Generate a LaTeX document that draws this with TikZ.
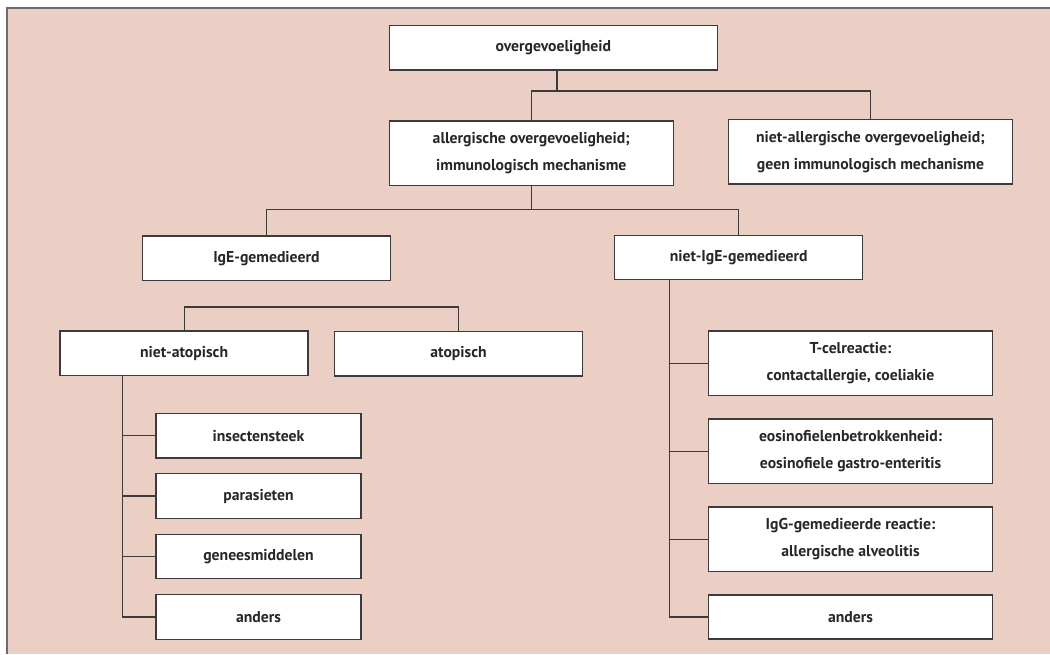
\documentclass[tikz,border=0pt]{standalone}
\usepackage{fontspec}
\setmainfont{PT Sans}
\definecolor{bgpink}{RGB}{235,207,196}
\definecolor{framegray}{RGB}{110,106,104}
\definecolor{boxline}{RGB}{60,58,58}
\definecolor{txt}{RGB}{40,38,38}
\tikzset{
  box/.style={draw=boxline, line width=1.3pt, fill=white, inner sep=0pt, align=center,
    text=txt, font=\fontsize{15.7}{27.3}\selectfont\bfseries},
  wbox/.style={box, minimum width=248pt, minimum height=44.3pt},
  link/.style={draw=boxline, line width=1.2pt}
}
\begin{document}
\begin{tikzpicture}[x=1pt,y=-1pt]
\useasboundingbox (0,0) rectangle (1050,654);
\fill[white] (0,0) rectangle (1050,654);
\fill[bgpink] (7,7.5) rectangle (1050,654);
\draw[framegray, line width=2pt] (7,654) -- (7,7.5) -- (1050,7.5);

% level 0-1
\node[box, minimum width=328pt, minimum height=44.3pt] (top) at (553.3,47.9) {overgevoeligheid};
\node[box, minimum width=284pt, minimum height=64.3pt] (allerg) at (531.3,153.2) {allergische overgevoeligheid;\\immunologisch mechanisme};
\node[box, minimum width=283.6pt, minimum height=64.3pt] (nallerg) at (870.5,151.8) {niet-allergische overgevoeligheid;\\geen immunologisch mechanisme};

% level 2
\node[wbox] (ige) at (266.4,258.2) {IgE-gemedieerd};
\node[wbox] (nige) at (738.7,257.5) {niet-IgE-gemedieerd};

% level 3
\node[wbox] (nato) at (184.1,353.2) {niet-atopisch};
\node[wbox] (ato) at (458.5,353.8) {atopisch};

% left children
\tikzset{lbox/.style={box, minimum width=205pt, minimum height=44.5pt}}
\node[lbox] (insect) at (258.5,435.7) {insectensteek};
\node[lbox] (paras) at (258.5,496) {parasieten};
\node[lbox] (genees) at (258.5,556.5) {geneesmiddelen};
\node[lbox] (landers) at (258.5,617) {anders};

% right children
\tikzset{rbox/.style={box, minimum width=283.6pt, minimum height=64.5pt}}
\node[rbox] (tcel) at (850.5,363.3) {T-celreactie:\\contactallergie, coeliakie};
\node[rbox] (eos) at (850.5,451.3) {eosinofielenbetrokkenheid:\\eosinofiele gastro-enteritis};
\node[rbox] (igg) at (850.5,539.2) {IgG-gemedieerde reactie:\\allergische alveolitis};
\node[rbox, minimum height=44pt] (randers) at (850.5,617) {anders};

% connectors
\coordinate (j1) at (557,91);
\draw[link] (top.south -| j1) -- (j1);
\draw[link] (allerg.north) |- (j1) -| (nallerg.north);

\coordinate (j2) at (531.3,209.3);
\draw[link] (allerg.south) -- (j2);
\draw[link] (ige.north) |- (j2) -| (nige.north);

\coordinate (j3) at (320,307);
\draw[link] (nato.north) |- (j3) -| (ato.north);

\coordinate (lsp) at (122.1,0);
\draw[link] (nato.south -| lsp) |- (landers.west);
\foreach \n in {insect,paras,genees}{
  \draw[link] (lsp |- \n.west) -- (\n.west);
}

\coordinate (rsp) at (669.3,0);
\draw[link] (nige.south -| rsp) |- (randers.west);
\foreach \n in {tcel,eos,igg}{
  \draw[link] (rsp |- \n.west) -- (\n.west);
}
\end{tikzpicture}
\end{document}
